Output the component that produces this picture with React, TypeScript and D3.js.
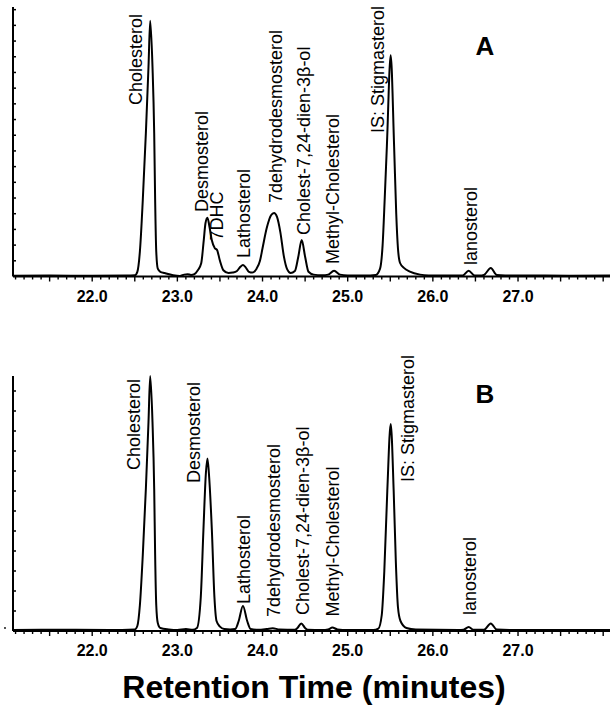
import React from 'react'
import * as d3 from 'd3'

// retention time (min), detector response (in y-tick units)
const traceA: [number, number][] = [
  [21.07, 0.05], [21.5, 0.06], [22.0, 0.05], [22.4, 0.06], [22.5, 0.08],
  [22.53, 0.3], [22.56, 1.6], [22.594, 4.87], [22.63, 9.12], [22.661, 13.36], [22.681, 16.29],
  [22.708, 13.36], [22.728, 9.12], [22.739, 4.87], [22.752, 1.6], [22.77, 0.5], [22.8, 0.3],
  [22.85, 0.22], [22.95, 0.08], [23.03, 0.03], [23.08, 0.12], [23.12, 0.15], [23.16, 0.1], [23.2, 0.15],
  [23.24, 0.4], [23.28, 0.84], [23.31, 2.32], [23.33, 3.39], [23.353, 3.75], [23.377, 3.17],
  [23.404, 2.32], [23.44, 1.8], [23.465, 1.7], [23.5, 1.0], [23.54, 0.4], [23.6, 0.22], [23.65, 0.25],
  [23.7, 0.35], [23.74, 0.62], [23.77, 0.73], [23.8, 0.6], [23.84, 0.3], [23.88, 0.25],
  [23.93, 0.5], [23.97, 1.0], [24.0, 1.8], [24.05, 3.1], [24.1, 3.9], [24.135, 4.05], [24.17, 3.8],
  [24.21, 2.8], [24.25, 1.3], [24.29, 0.45], [24.33, 0.22],
  [24.38, 0.35], [24.42, 1.26], [24.46, 2.32], [24.5, 1.26], [24.54, 0.3], [24.6, 0.12],
  [24.7, 0.08], [24.77, 0.12], [24.84, 0.37], [24.91, 0.12], [25.0, 0.07], [25.2, 0.06], [25.33, 0.1],
  [25.38, 0.5], [25.41, 2.0], [25.435, 5.0], [25.46, 8.3], [25.505, 14.1], [25.545, 8.3],
  [25.57, 4.0], [25.59, 1.8], [25.615, 0.86], [25.66, 0.55], [25.73, 0.31], [25.85, 0.12], [25.95, 0.07],
  [26.2, 0.06], [26.35, 0.07], [26.42, 0.37], [26.49, 0.07], [26.55, 0.06], [26.6, 0.1],
  [26.68, 0.54], [26.75, 0.1], [26.85, 0.07], [27.2, 0.06], [27.6, 0.05], [28.08, 0.06],
]

const traceB: [number, number][] = [
  [21.07, 0.05], [21.6, 0.06], [22.2, 0.05], [22.5, 0.08],
  [22.53, 0.25], [22.56, 1.3], [22.594, 3.8], [22.63, 7.1], [22.661, 10.45], [22.681, 12.75],
  [22.708, 10.45], [22.728, 7.1], [22.739, 3.8], [22.752, 1.3], [22.77, 0.4], [22.8, 0.15],
  [22.9, 0.08], [23.0, 0.05], [23.1, 0.1], [23.18, 0.06],
  [23.23, 0.15], [23.275, 1.7], [23.306, 5.05], [23.335, 7.9], [23.353, 8.63], [23.37, 7.9],
  [23.405, 5.05], [23.435, 1.7], [23.46, 0.5], [23.5, 0.22], [23.55, 0.1], [23.62, 0.08],
  [23.68, 0.1], [23.72, 0.5], [23.77, 1.25], [23.82, 0.5], [23.86, 0.1],
  [23.95, 0.06], [24.05, 0.1], [24.12, 0.14], [24.2, 0.07],
  [24.38, 0.06], [24.41, 0.15], [24.455, 0.38], [24.5, 0.15], [24.53, 0.06],
  [24.7, 0.05], [24.77, 0.08], [24.82, 0.17], [24.88, 0.08], [25.0, 0.05], [25.3, 0.05],
  [25.36, 0.12], [25.4, 0.8], [25.43, 3.0], [25.465, 7.0], [25.505, 10.35], [25.54, 7.0],
  [25.565, 3.5], [25.59, 1.2], [25.62, 0.5], [25.69, 0.15], [25.8, 0.07],
  [26.3, 0.05], [26.36, 0.06], [26.42, 0.2], [26.48, 0.06], [26.6, 0.06], [26.68, 0.38],
  [26.75, 0.07], [26.9, 0.05], [28.08, 0.05],
]

// peak labels: text, time at label baseline, response at label start
const labelsA: [string, number, number][] = [
  ['Cholesterol', 22.587, 10.92],
  ['Desmosterol', 23.36, 4.11],
  ['7DHC', 23.53, 2.3],
  ['Lathosterol', 23.855, 1.18],
  ['7dehydrodesmosterol', 24.23, 4.68],
  ['Cholest-7,24-dien-3β-ol', 24.56, 2.64],
  ['Methyl-Cholesterol', 24.9, 0.8],
  ['IS: Stigmasterol', 25.43, 9.14],
  ['lanosterol', 26.52, 0.73],
]

const labelsB: [string, number, number][] = [
  ['Cholesterol', 22.563, 8.05],
  ['Desmosterol', 23.268, 7.4],
  ['Lathosterol', 23.855, 1.35],
  ['7dehydrodesmosterol', 24.21, 0.7],
  ['Cholest-7,24-dien-3β-ol', 24.547, 0.8],
  ['Methyl-Cholesterol', 24.9, 0.72],
  ['IS: Stigmasterol', 25.78, 7.45],
  ['lanosterol', 26.51, 0.8],
]

const xTickLabels = [22, 23, 24, 25, 26, 27]
const xDomain: [number, number] = [21.07, 28.08]
const font = '"Liberation Sans", Arial, Helvetica, sans-serif'

const x = d3.scaleLinear().domain(xDomain).range([13, 610])

const Panel = ({ trace, labels, letter, yMax, top, bottom }: any) => {
  const y = d3.scaleLinear().domain([0, yMax]).range([bottom, top])
  const line = d3
    .line<[number, number]>()
    .x(d => x(d[0]))
    .y(d => y(d[1]))
    .curve(d3.curveMonotoneX)
  const minor = d3.range(211, 281).map(d => d / 10)
  const yTicks = d3.range(1, Math.floor(yMax) + 1)

  return (
    <g>
      {/* y axis */}
      <line x1={x(xDomain[0])} x2={x(xDomain[0])} y1={top} y2={bottom} stroke="#000" strokeWidth={2} />
      {yTicks.map(t => (
        <line key={t} x1={x(xDomain[0])} x2={x(xDomain[0]) + 3} y1={y(t)} y2={y(t)} stroke="#000" strokeWidth={1.5} />
      ))}
      {/* x axis */}
      <line x1={x(xDomain[0])} x2={x(xDomain[1])} y1={bottom} y2={bottom} stroke="#000" strokeWidth={2} />
      {minor.map(t => {
        const major = Math.round(t * 10) % 5 === 0
        return (
          <line key={t} x1={x(t)} x2={x(t)} y1={bottom} y2={bottom + (major ? 5 : 3)} stroke="#000" strokeWidth={1.4} />
        )
      })}
      {xTickLabels.map(t => (
        <text key={t} x={x(t)} y={bottom + 25} textAnchor="middle" fontFamily={font} fontWeight="bold" fontSize={16}>
          {t.toFixed(1)}
        </text>
      ))}
      <path d={line(trace) || ''} fill="none" stroke="#000" strokeWidth={2} strokeLinejoin="round" />
      {labels.map(([name, t, v]: [string, number, number]) => (
        <text
          key={name}
          transform={`translate(${x(t)},${y(v)}) rotate(-90)`}
          fontFamily={font}
          fontSize={18}
        >
          {name}
        </text>
      ))}
      <text x={485} y={top + (letter === 'A' ? 48 : 27)} textAnchor="middle" fontFamily={font} fontWeight="bold" fontSize={26}>
        {letter}
      </text>
    </g>
  )
}

export default function App() {
  return (
    <svg
      width={616}
      height={712}
      style={{ position: 'absolute', left: 0, top: 0, background: '#fff' }}
    >
      <Panel trace={traceA} labels={labelsA} letter="A" yMax={17.17} top={7} bottom={276.5} />
      <Panel trace={traceB} labels={labelsB} letter="B" yMax={12.75} top={376} bottom={631} />
      <circle cx={5} cy={628} r={0.9} fill="#000" />
      <text x={314} y={698} textAnchor="middle" fontFamily={font} fontWeight="bold" fontSize={32}>
        Retention Time (minutes)
      </text>
    </svg>
  )
}
